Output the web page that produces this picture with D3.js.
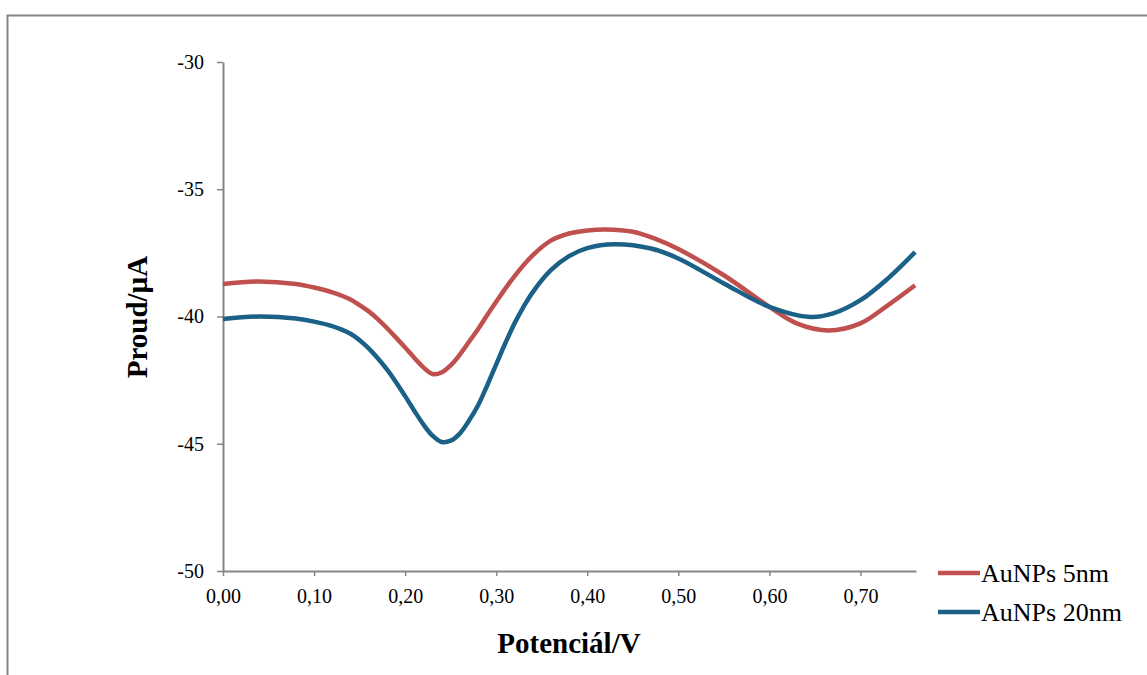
<!DOCTYPE html>
<html>
<head>
<meta charset="utf-8">
<script src="https://cdn.jsdelivr.net/npm/d3@7"></script>
<style>
  html, body { margin: 0; padding: 0; background: #fff; }
  svg { display: block; }
</style>
</head>
<body>
<svg id="chart" width="1147" height="675"></svg>
<script>
// Potential (V) and measured current (µA) for each electrode
const potential5 = [0.00, 0.04, 0.08, 0.10, 0.12, 0.14, 0.15, 0.16, 0.17, 0.18, 0.19, 0.20, 0.21, 0.22, 0.23, 0.24, 0.25, 0.26, 0.27, 0.28, 0.29, 0.30, 0.32, 0.34, 0.36, 0.38, 0.40, 0.42, 0.45, 0.475, 0.50, 0.55, 0.60, 0.63, 0.665, 0.70, 0.73, 0.76];
const current5   = [-38.72, -38.62, -38.72, -38.86, -39.05, -39.33, -39.55, -39.8, -40.1, -40.45, -40.83, -41.22, -41.62, -42.0, -42.26, -42.2, -41.92, -41.5, -41.0, -40.5, -39.95, -39.42, -38.42, -37.6, -37.02, -36.74, -36.62, -36.58, -36.67, -36.95, -37.35, -38.38, -39.62, -40.27, -40.55, -40.27, -39.56, -38.77];

const potential20 = [0.00, 0.04, 0.08, 0.10, 0.12, 0.14, 0.15, 0.16, 0.17, 0.18, 0.19, 0.20, 0.21, 0.22, 0.23, 0.24, 0.25, 0.26, 0.27, 0.28, 0.29, 0.30, 0.31, 0.32, 0.33, 0.34, 0.36, 0.38, 0.40, 0.43, 0.47, 0.50, 0.55, 0.60, 0.645, 0.67, 0.70, 0.73, 0.76];
const current20   = [-40.1, -40.0, -40.08, -40.2, -40.38, -40.68, -40.93, -41.25, -41.64, -42.08, -42.58, -43.13, -43.7, -44.24, -44.68, -44.93, -44.88, -44.6, -44.1, -43.5, -42.72, -41.88, -41.05, -40.28, -39.62, -39.05, -38.18, -37.63, -37.31, -37.16, -37.33, -37.72, -38.7, -39.62, -40.02, -39.88, -39.36, -38.51, -37.47];

const seriesNames  = ["AuNPs 5nm", "AuNPs 20nm"];
const seriesColors = ["#C0504D", "#1B6086"];

const xTicks = [0, 0.1, 0.2, 0.3, 0.4, 0.5, 0.6, 0.7];
const yTicks = [-50, -45, -40, -35, -30];

const xTitle = "Potenciál/V";
const yTitle = "Proud/µA";

const series = [
  potential5.map((v, i) => ({ x: v, y: current5[i] })),
  potential20.map((v, i) => ({ x: v, y: current20[i] }))
];

const serif = "'Liberation Serif', 'Times New Roman', serif";
const svg = d3.select("#chart");

// chart area frame
svg.append("rect")
  .attr("x", 7.5).attr("y", 15.5)
  .attr("width", 1160).attr("height", 700)
  .attr("fill", "#fff")
  .attr("stroke", "#868686").attr("stroke-width", 2);

const plot = { left: 223, right: 916, top: 62, bottom: 571 };

const x = d3.scaleLinear().domain([0, 0.761]).range([plot.left, plot.right]);
const y = d3.scaleLinear().domain([-50, -30]).range([plot.bottom, plot.top]);

const fmtX = d => d3.format(".2f")(d).replace(".", ",");
const fmtY = d => String(d);

// x axis
const gx = svg.append("g")
  .attr("transform", `translate(0,${plot.bottom})`)
  .call(d3.axisBottom(x).tickValues(xTicks).tickFormat(fmtX).tickSize(5).tickSizeOuter(0).tickPadding(13));
gx.attr("font-family", serif).attr("font-size", 20);
gx.select(".domain").attr("stroke", "#868686").attr("stroke-width", 2);
gx.selectAll(".tick line").attr("stroke", "#868686").attr("stroke-width", 1.5);
gx.selectAll(".tick text").attr("fill", "#000");

// y axis
const gy = svg.append("g")
  .attr("transform", `translate(${plot.left},0)`)
  .call(d3.axisLeft(y).tickValues(yTicks).tickFormat(fmtY).tickSize(6).tickSizeOuter(0).tickPadding(13));
gy.attr("font-family", serif).attr("font-size", 20);
gy.select(".domain").attr("stroke", "#868686").attr("stroke-width", 2);
gy.selectAll(".tick line").attr("stroke", "#868686").attr("stroke-width", 1.5);
gy.selectAll(".tick text").attr("fill", "#000");

// data lines
const line = d3.line().x(d => x(d.x)).y(d => y(d.y)).curve(d3.curveCatmullRom.alpha(0.5));
series.forEach((s, i) => {
  svg.append("path")
    .datum(s)
    .attr("fill", "none")
    .attr("stroke", seriesColors[i])
    .attr("stroke-width", 4.5)
    .attr("stroke-linejoin", "round")
    .attr("d", line);
});

// axis titles
svg.append("text")
  .attr("x", 569).attr("y", 653)
  .attr("text-anchor", "middle")
  .attr("font-family", serif)
  .attr("font-size", 29).attr("font-weight", "bold")
  .text(xTitle);

svg.append("text")
  .attr("transform", "translate(147,317) rotate(-90)")
  .attr("text-anchor", "middle")
  .attr("font-family", serif)
  .attr("font-size", 29).attr("font-weight", "bold")
  .text(yTitle);

// legend
const legend = svg.append("g");
seriesNames.forEach((name, i) => {
  const ly = 573 + i * 39;
  legend.append("line")
    .attr("x1", 938).attr("x2", 980)
    .attr("y1", ly).attr("y2", ly)
    .attr("stroke", seriesColors[i]).attr("stroke-width", 4.5);
  legend.append("text")
    .attr("x", 981).attr("y", ly + 9)
    .attr("font-family", serif)
    .attr("font-size", 26)
    .text(name);
});
</script>
</body>
</html>
